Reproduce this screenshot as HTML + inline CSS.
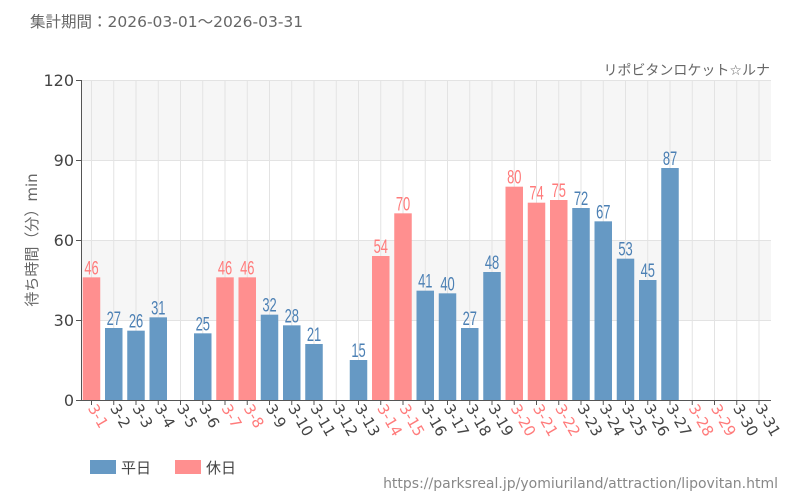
<!DOCTYPE html>
<html><head><meta charset="utf-8"><style>
body{margin:0;background:#fff}
svg{display:block;font-family:"DejaVu Sans","Noto Sans CJK JP",sans-serif}
.v{font-family:"Liberation Sans Narrow","Liberation Sans",sans-serif;font-size:19px;text-anchor:middle}
.b{fill:#4c80b4}.h{fill:#ff7b7b}
</style></head><body>
<svg width="800" height="500" viewBox="0 0 800 500">
<text x="30" y="27" font-size="15.5" fill="#666">集計期間：2026-03-01～2026-03-31</text>
<text x="770" y="75" font-size="14" fill="#666" text-anchor="end">リポビタンロケット☆ルナ</text>
<rect x="81" y="80" width="690" height="80" fill="#f6f6f6"/>
<rect x="81" y="240" width="690" height="80" fill="#f6f6f6"/>
<g stroke="#e3e3e3" stroke-width="1">
<line x1="81" y1="80.5" x2="771" y2="80.5"/><line x1="81" y1="160.5" x2="771" y2="160.5"/><line x1="81" y1="240.5" x2="771" y2="240.5"/><line x1="81" y1="320.5" x2="771" y2="320.5"/>
</g>
<g id="vg" stroke="#e3e3e3"></g>
<g id="bars"></g>
<line x1="81.5" y1="80" x2="81.5" y2="400" stroke="#555"/>
<line x1="81" y1="400.5" x2="771" y2="400.5" stroke="#555"/>
<g font-size="16" fill="#444" text-anchor="end">
<text x="74" y="86">120</text><text x="74" y="166">90</text><text x="74" y="246">60</text><text x="74" y="326">30</text><text x="74" y="406">0</text>
</g>
<g stroke="#555"><line x1="76" y1="80.5" x2="81" y2="80.5"/><line x1="76" y1="160.5" x2="81" y2="160.5"/><line x1="76" y1="240.5" x2="81" y2="240.5"/><line x1="76" y1="320.5" x2="81" y2="320.5"/><line x1="76" y1="400.5" x2="81" y2="400.5"/></g>
<text transform="translate(37,240) rotate(-90)" font-size="15" fill="#666" text-anchor="middle">待ち時間（分）min</text>
<g id="ticks"></g>
<rect x="90" y="460" width="26" height="14" fill="#6699c4"/>
<text x="121" y="473" font-size="15" fill="#444">平日</text>
<rect x="175" y="460" width="26" height="14" fill="#ff8f8f"/>
<text x="206" y="473" font-size="15" fill="#444">休日</text>
<text x="778" y="488" font-size="14" fill="#888" text-anchor="end">https://parksreal.jp/yomiuriland/attraction/lipovitan.html</text>
</svg>
<script>
var d=[46,27,26,31,null,25,46,46,32,28,21,null,15,54,70,41,40,27,48,80,74,75,72,67,53,45,87,null,null,null,null];
var hol=[1,7,8,14,15,20,21,22,28,29];
var ns="http://www.w3.org/2000/svg";
function el(t,a,p,txt){var e=document.createElementNS(ns,t);for(var k in a)e.setAttribute(k,a[k]);if(txt!=null)e.textContent=txt;document.getElementById(p).appendChild(e);}
for(var i=0;i<31;i++){
 var cx=91.5+22.25*i,day=i+1,h=hol.indexOf(day)>=0;
 el("line",{x1:cx,y1:80,x2:cx,y2:400},"vg");
 el("line",{x1:cx,y1:400,x2:cx,y2:405,stroke:"#555"},"ticks");
 el("text",{transform:"translate("+(cx-4)+",408) rotate(60)","font-size":"15",fill:h?"#ff7b7b":"#444"},"ticks","3-"+day);
 var v=d[i];if(v==null)continue;
 var y=400-v*320/120;
 el("rect",{x:cx-8.75,y:y,width:17.5,height:400-y,fill:h?"#ff8f8f":"#6699c4"},"bars");
 el("text",{transform:"translate("+cx+","+(y-3)+") scale(0.68,1)","class":"v "+(h?"h":"b")},"bars",v);
}
</script>
</body></html>
